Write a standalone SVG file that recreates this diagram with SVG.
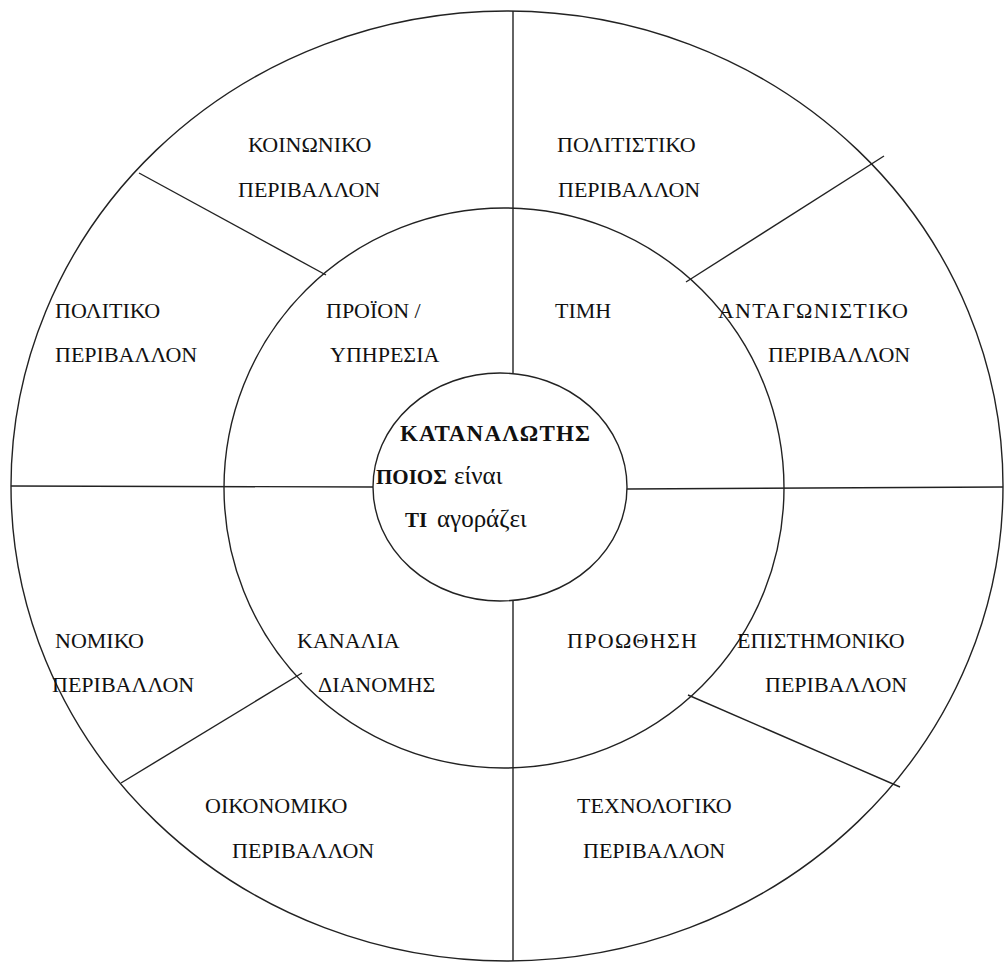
<svg xmlns="http://www.w3.org/2000/svg" width="1005" height="962" viewBox="0 0 1005 962">
  <style>
    .ring { fill: none; stroke: #222; stroke-width: 1.4; }
    .div { stroke: #222; stroke-width: 1.4; fill: none; }
    .lbl { font-family: "Liberation Serif", "DejaVu Serif", serif; font-size: 22px; fill: #111; }
    .b { font-weight: bold; font-size: 21px; }
    .lc { font-size: 25px; }
  </style>
  <rect width="1005" height="962" fill="#fff"/>

  <!-- rings -->
  <g id="rings">
    <ellipse id="outer-ring" class="ring" cx="507" cy="486" rx="496" ry="475"/>
    <circle id="middle-ring" class="ring" cx="504" cy="488" r="280"/>
    <ellipse id="core-ring" class="ring" cx="500" cy="487" rx="127" ry="114"/>
  </g>

  <!-- dividing lines -->
  <g id="connectors">
    <line class="div" x1="513" y1="11" x2="513" y2="373"/>
    <line class="div" x1="513" y1="601" x2="513" y2="961"/>
    <line class="div" x1="11" y1="486" x2="373" y2="487"/>
    <line class="div" x1="627" y1="489" x2="1003" y2="487"/>
    <line class="div" x1="139" y1="173" x2="326" y2="275"/>
    <line class="div" x1="686" y1="282" x2="884" y2="156"/>
    <line class="div" x1="121" y1="783" x2="302" y2="673"/>
    <line class="div" x1="688" y1="695" x2="900" y2="787"/>
  </g>

  <!-- outer ring sectors -->
  <g id="social" class="lbl"><text x="248" y="152">ΚΟΙΝΩΝΙΚΟ</text><text x="238" y="197">ΠΕΡΙΒΑΛΛΟΝ</text></g>
  <g id="cultural" class="lbl"><text x="557" y="152">ΠΟΛΙΤΙΣΤΙΚΟ</text><text x="558" y="197">ΠΕΡΙΒΑΛΛΟΝ</text></g>
  <g id="political" class="lbl"><text x="55" y="318">ΠΟΛΙΤΙΚΟ</text><text x="55" y="362">ΠΕΡΙΒΑΛΛΟΝ</text></g>
  <g id="competitive" class="lbl"><text x="718" y="318" textLength="190" lengthAdjust="spacing">ΑΝΤΑΓΩΝΙΣΤΙΚΟ</text><text x="768" y="362">ΠΕΡΙΒΑΛΛΟΝ</text></g>
  <g id="legal" class="lbl"><text x="55" y="648">ΝΟΜΙΚΟ</text><text x="52" y="692">ΠΕΡΙΒΑΛΛΟΝ</text></g>
  <g id="scientific" class="lbl"><text x="737" y="648">ΕΠΙΣΤΗΜΟΝΙΚΟ</text><text x="765" y="692">ΠΕΡΙΒΑΛΛΟΝ</text></g>
  <g id="economic" class="lbl"><text x="205" y="813">ΟΙΚΟΝΟΜΙΚΟ</text><text x="232" y="858">ΠΕΡΙΒΑΛΛΟΝ</text></g>
  <g id="technological" class="lbl"><text x="577" y="813">ΤΕΧΝΟΛΟΓΙΚΟ</text><text x="583" y="858">ΠΕΡΙΒΑΛΛΟΝ</text></g>

  <!-- marketing mix ring -->
  <g id="product" class="lbl"><text x="326" y="318">ΠΡΟΪΟΝ /</text><text x="330" y="362">ΥΠΗΡΕΣΙΑ</text></g>
  <g id="price" class="lbl"><text x="555" y="318">ΤΙΜΗ</text></g>
  <g id="place" class="lbl"><text x="297" y="648">ΚΑΝΑΛΙΑ</text><text x="318" y="692">ΔΙΑΝΟΜΗΣ</text></g>
  <g id="promotion" class="lbl"><text x="567" y="648" textLength="130" lengthAdjust="spacing">ΠΡΟΩΘΗΣΗ</text></g>

  <!-- core -->
  <g id="consumer" class="lbl">
    <text x="400" y="441" font-weight="bold" font-size="23" textLength="190" lengthAdjust="spacing">ΚΑΤΑΝΑΛΩΤΗΣ</text>
    <text x="376" y="484"><tspan class="b">ΠΟΙΟΣ</tspan><tspan class="lc" x="454">είναι</tspan></text>
    <text x="405" y="527"><tspan class="b">ΤΙ</tspan><tspan class="lc" x="437">αγοράζει</tspan></text>
  </g>
</svg>
